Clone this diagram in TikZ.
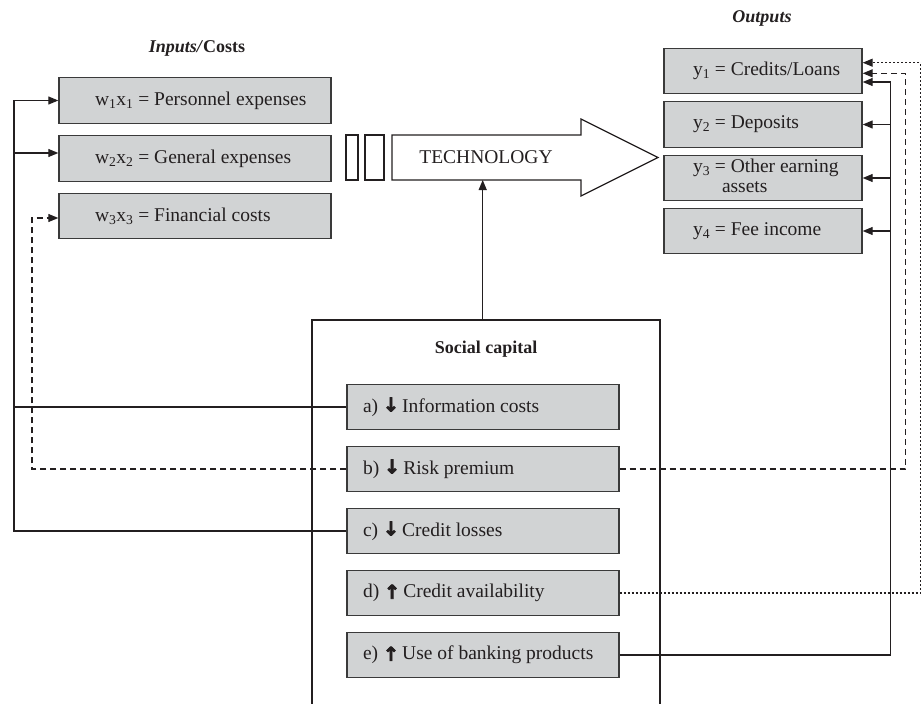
\documentclass[tikz,border=0pt]{standalone}
\usepackage{fontspec}
\setmainfont{Liberation Serif}
\newfontfamily\arrfont[BoldFeatures={FakeBold=4}]{DejaVu Sans}
\usetikzlibrary{arrows.meta,calc}

\definecolor{boxfill}{HTML}{D1D3D4}
\definecolor{boxline}{HTML}{3A3A3A}
\definecolor{ink}{HTML}{231F20}

\newcommand\dnarr{\raisebox{1pt}{\arrfont\bfseries\fontsize{19}{20}\selectfont ↓}}
\newcommand\uparr{\raisebox{-1pt}{\arrfont\bfseries\fontsize{19}{20}\selectfont ↑}}

\tikzset{
  box/.style={draw=boxline, fill=boxfill, line width=1.4pt, inner sep=0pt,
    text=ink, minimum height=45.5pt},
  inbox/.style={box, minimum width=272pt},
  outbox/.style={box, minimum width=198pt},
  capbox/.style={box, minimum width=272pt},
  conn/.style={draw=ink, line width=1.2pt},
  tip/.style={-{Triangle[length=10pt,width=8pt]}},
  dashline/.style={conn, dash pattern=on 6pt off 4pt},
  dotline/.style={conn, dash pattern=on 2pt off 2pt},
  frame/.style={draw=ink, line width=1.2pt},
  title/.style={text=ink, font=\fontsize{18}{20}\selectfont\bfseries},
}

\begin{document}
\begin{tikzpicture}[x=1pt, y=-1pt, font=\fontsize{19.5}{21}\selectfont, line join=miter]
\useasboundingbox (0,0) rectangle (922,704);

% column titles
\node[title] (intitle) at (197,48) {\textit{Inputs/}Costs};
\node[title] (outtitle) at (762,18) {\textit{Outputs}};

% inputs / costs
\node[inbox] (in1) at (195,100.5) {\makebox[200pt][l]{w\textsubscript{1}x\textsubscript{1} = Personnel expenses}};
\node[inbox] (in2) at (195,158.5) {\makebox[200pt][l]{w\textsubscript{2}x\textsubscript{2} = General expenses}};
\node[inbox] (in3) at (195,216) {\makebox[200pt][l]{w\textsubscript{3}x\textsubscript{3} = Financial costs}};

% outputs
\node[outbox] (out1) at (763,71) {\makebox[140pt][l]{y\textsubscript{1} = Credits/Loans}};
\node[outbox] (out2) at (763,124.5) {\makebox[140pt][l]{y\textsubscript{2} = Deposits}};
\node[outbox] (out3) at (763,178) {\makebox[140pt][l]{\begin{tabular}{@{}l@{}}y\textsubscript{3} = Other earning\\[-1pt]\hspace{29pt}assets\end{tabular}}};
\node[outbox] (out4) at (763,231) {\makebox[140pt][l]{y\textsubscript{4} = Fee income}};

% technology arrow with the two bars in front of it
\draw[frame, fill=white] (392,135) -- (581,135) -- (581,119) -- (658,157.5)
  -- (581,196) -- (581,180) -- (392,180) -- cycle;
\draw[frame] (346,135) rectangle (358,180);
\draw[frame] (365,135) rectangle (384,180);
\node[text=ink] (tech) at (486,157) {TECHNOLOGY};
\coordinate (techbot) at (482.7,180);

% social capital frame (open towards the bottom)
\draw[frame] (312,704) -- (312,320) -- (660,320) -- (660,704);
\coordinate (socialtop) at (482.7,320);
\node[title] (soctitle) at (486,349) {Social capital};

\node[capbox] (sa) at (483,407) {\makebox[240pt][l]{a) \dnarr\,Information costs}};
\node[capbox] (sb) at (483,469) {\makebox[240pt][l]{b) \dnarr\,Risk premium}};
\node[capbox] (sc) at (483,531) {\makebox[240pt][l]{c) \dnarr\,Credit losses}};
\node[capbox] (sd) at (483,593) {\makebox[240pt][l]{d) \uparr\,Credit availability}};
\node[capbox] (se) at (483,655) {\makebox[240pt][l]{e) \uparr\,Use of banking products}};

% routing columns
\coordinate (xl) at (14,0);
\coordinate (xd) at (32,0);
\coordinate (xr1) at (890.7,0);
\coordinate (xr2) at (905.5,0);
\coordinate (xr3) at (920.3,0);

% arrow ends that sit off the box centres
\coordinate (in2a) at ([yshift=5.5pt]in2.west);
\coordinate (in3a) at ([yshift=-2pt]in3.west);
\coordinate (o1a) at ([yshift=8.3pt]out1.east);
\coordinate (o1b) at ([yshift=-2.3pt]out1.east);
\coordinate (o1c) at ([yshift=-11pt]out1.east);

% social capital drives technology
\draw[conn, tip] (socialtop) -- (techbot);

% effects on the cost side
\draw[conn, tip] (sa.west) -| (xl |- in1.west) -- (in1.west);
\draw[conn] (sc.west) -| (xl |- sa.west);
\draw[conn, tip] (xl |- in2a) -- (in2a);
\draw[dashline, tip] (sb.west) -| (xd |- in3a) -- (in3a);

% effects on the output side
\draw[dashline, tip] (sb.east) -| (xr2 |- o1b) -- (o1b);
\draw[dotline, tip] (sd.east) -| (xr3 |- o1a) -- (o1a);
\draw[conn, tip] (se.east) -| (xr1 |- o1c) -- (o1c);
\draw[conn, tip] (xr1 |- out2.east) -- (out2.east);
\draw[conn, tip] (xr1 |- out3.east) -- (out3.east);
\draw[conn, tip] (xr1 |- out4.east) -- (out4.east);
\end{tikzpicture}
\end{document}
